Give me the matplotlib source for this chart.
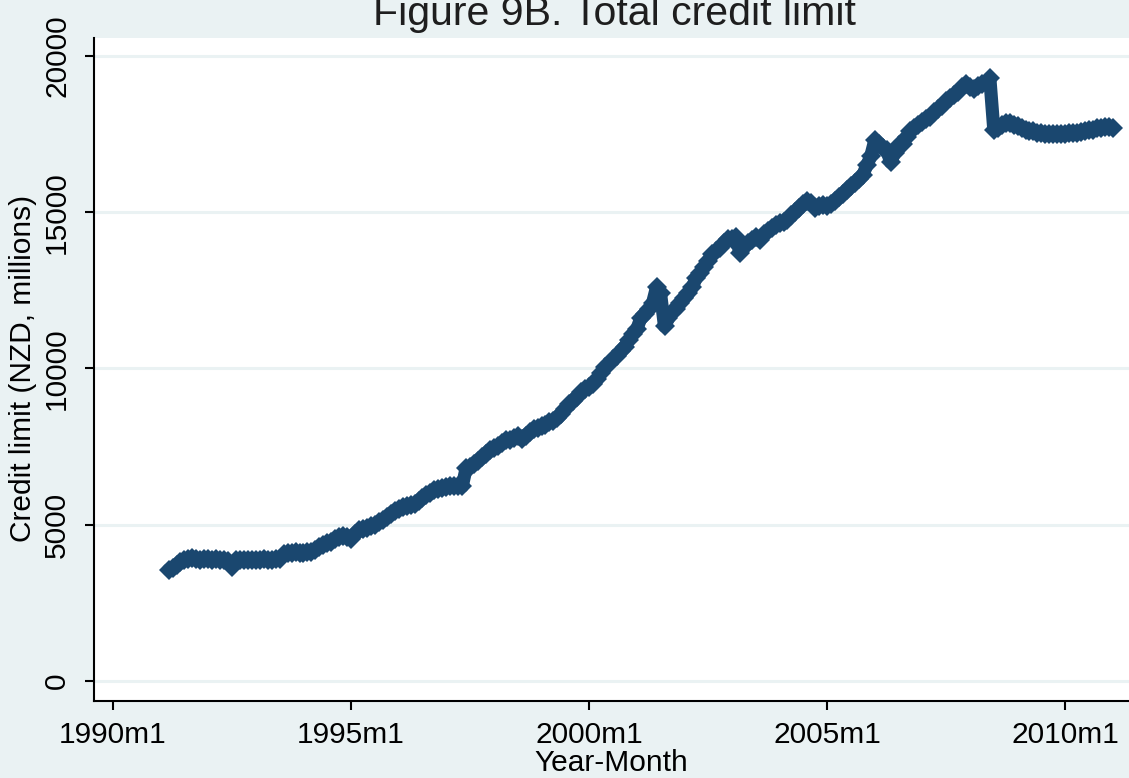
import matplotlib
matplotlib.use("Agg")
import matplotlib.pyplot as plt
import numpy as np

plt.rcParams['font.family'] = ['Liberation Sans', 'DejaVu Sans']

# Monthly total credit limit (NZD, millions), 1991m3 .. 2011m1
start_year, start_month = 1991, 3
v1991 = [3550, 3600, 3700, 3800, 3880, 3900, 3920, 3900, 3880, 3900]
v1992 = [3900, 3880, 3900, 3860, 3880, 3820, 3650, 3850, 3880, 3880, 3870, 3880]
v1993 = [3880, 3880, 3890, 3880, 3880, 3890, 3900, 4050, 4100, 4100, 4120, 4100]
v1994 = [4100, 4110, 4120, 4200, 4280, 4350, 4400, 4450, 4550, 4600, 4620, 4600]
v1995 = [4550, 4700, 4820, 4870, 4900, 4950, 5000, 5080, 5150, 5250, 5350, 5450]
v1996 = [5500, 5550, 5600, 5620, 5650, 5750, 5850, 5950, 6000, 6100, 6150, 6180]
v1997 = [6200, 6220, 6220, 6230, 6220, 6800, 6850, 6950, 7050, 7150, 7250, 7400]
v1998 = [7450, 7500, 7600, 7700, 7720, 7780, 7820, 7750, 7850, 7950, 8050, 8100]
v1999 = [8150, 8200, 8280, 8330, 8400, 8550, 8700, 8850, 8950, 9100, 9250, 9350]
v2000 = [9400, 9500, 9650, 9850, 10050, 10150, 10300, 10400, 10550, 10700, 10900, 11100]
v2001 = [11250, 11600, 11750, 11900, 12100, 12600, 12400, 11350, 11600, 11800, 11900, 12100]
v2002 = [12250, 12400, 12600, 12900, 13050, 13250, 13450, 13650, 13750, 13850, 14000, 14150]
v2003 = [14150, 14200, 13700, 13900, 14000, 14100, 14200, 14100, 14300, 14400, 14500, 14600]
v2004 = [14650, 14700, 14750, 14900, 15000, 15150, 15250, 15350, 15300, 15150, 15200, 15220]
v2005 = [15200, 15250, 15350, 15500, 15600, 15700, 15850, 15950, 16050, 16200, 16500, 16800]
v2006 = [17300, 17200, 17050, 17000, 16600, 16900, 17150, 17200, 17400, 17600, 17700, 17800]
v2007 = [17900, 18000, 18050, 18200, 18300, 18400, 18550, 18650, 18750, 18850, 19000, 19100]
v2008 = [19000, 18950, 19050, 19100, 19150, 19300, 17650, 17700, 17800, 17850, 17850, 17800]
v2009 = [17750, 17700, 17650, 17600, 17600, 17550, 17550, 17500, 17500, 17500, 17500, 17500]
v2010 = [17520, 17530, 17550, 17550, 17580, 17600, 17620, 17650, 17700, 17700, 17720, 17720]
v2011 = [17700]

values = (v1991 + v1992 + v1993 + v1994 + v1995 + v1996 + v1997 + v1998 + v1999 + v2000
          + v2001 + v2002 + v2003 + v2004 + v2005 + v2006 + v2007 + v2008 + v2009 + v2010 + v2011)

xtick_years = [1990, 1995, 2000, 2005, 2010]
xtick_labels = ["1990m1", "1995m1", "2000m1", "2005m1", "2010m1"]
ytick_values = [0, 5000, 10000, 15000, 20000]

# monthly time axis (fractional years)
t = start_year + (start_month - 1) / 12 + np.arange(len(values)) / 12

BG = "#EAF2F3"
NAVY = "#1A476F"

W, H = 1129, 778
fig = plt.figure(figsize=(W / 100, H / 100), dpi=100, facecolor=BG)
left, right, top, bottom = 94, 1129, 38, 701
ax = fig.add_axes([left / W, 1 - bottom / H, (right - left) / W, (bottom - top) / H])
ax.set_facecolor("white")

ax.plot(t, values, color=NAVY, lw=9.5, marker="D", markersize=10, markeredgewidth=0,
        solid_joinstyle="round", solid_capstyle="round", zorder=3)

ax.set_xlim(1989.6, 2011.34)
ax.set_ylim(-650, 20580)
ax.set_xticks(xtick_years)
ax.set_xticklabels(xtick_labels)
ax.set_yticks(ytick_values)
ax.set_yticklabels([str(v) for v in ytick_values], rotation=90, va="center")

ax.grid(axis="y", color=BG, lw=2.2, zorder=0)
ax.grid(axis="x", visible=False)
ax.set_axisbelow(True)

for s in ["top", "right"]:
    ax.spines[s].set_visible(False)
for s in ["left", "bottom"]:
    ax.spines[s].set_color("black")
    ax.spines[s].set_linewidth(1.5)

ax.tick_params(axis="both", direction="out", length=6.5, width=1.5, color="black",
               labelsize=21.5, pad=8, labelcolor="black")
ax.tick_params(axis="y", pad=10)

fig.text(23 / W, 1 - 368 / H, "Credit limit (NZD, millions)", rotation=90,
         ha="center", va="center", fontsize=21.5)
fig.text(611 / W, 1 - 771 / H, "Year-Month", ha="center", va="baseline", fontsize=21.5)
fig.text(614 / W, 1 - 25 / H, "Figure 9B. Total credit limit", ha="center",
         va="baseline", fontsize=29.5, color="#1E1E1E")

fig.savefig("out.png", dpi=100, facecolor=BG)
